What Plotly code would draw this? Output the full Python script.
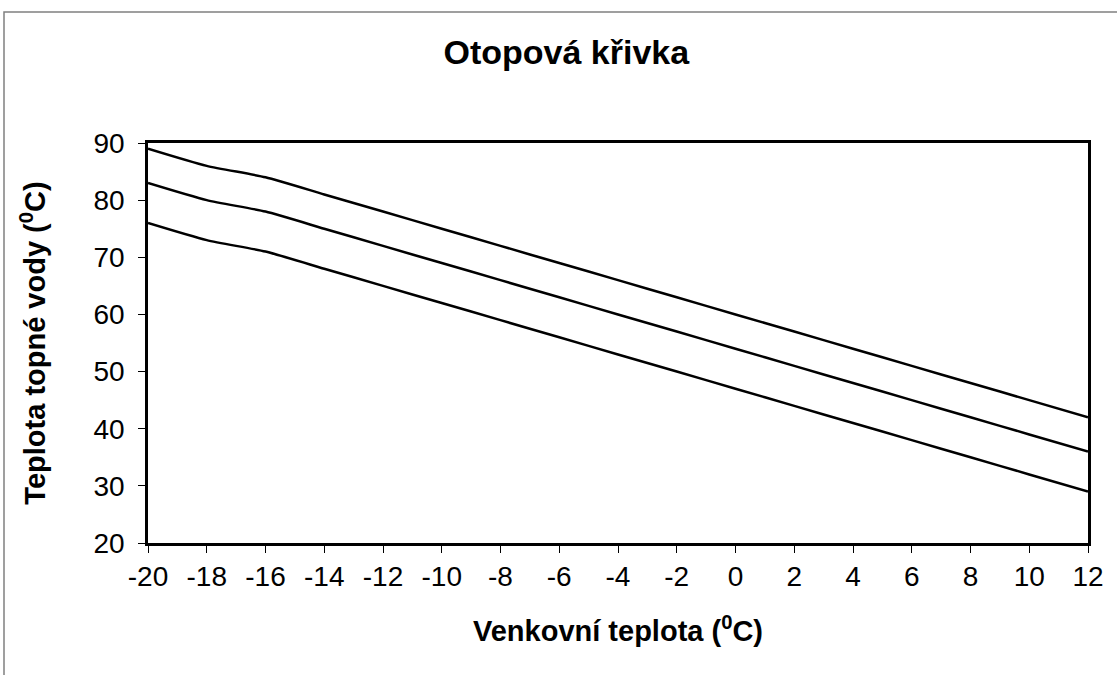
import plotly.graph_objects as go

x_vals = [-20, -18, -16, -14, -12, -10, -8, -6, -4, -2, 0, 2, 4, 6, 8, 10, 12]
upper = [89, 86, 84, 81, 78, 75, 72, 69, 66, 63, 60, 57, 54, 51, 48, 45, 42]
middle = [83, 80, 78, 75, 72, 69, 66, 63, 60, 57, 54, 51, 48, 45, 42, 39, 36]
lower = [76, 73, 71, 68, 65, 62, 59, 56, 53, 50, 47, 44, 41, 38, 35, 32, 29]
y_ticks = [20, 30, 40, 50, 60, 70, 80, 90]

FONT = "Liberation Sans, Arial, sans-serif"

fig = go.Figure()
for ys in (upper, middle, lower):
    fig.add_trace(go.Scatter(x=x_vals, y=ys, mode="lines",
                             line=dict(color="black", width=2.5, shape="spline", smoothing=0.6),
                             showlegend=False, hoverinfo="skip"))

fig.update_layout(
    width=1117, height=675,
    margin=dict(l=148, r=29, t=143, b=132),
    paper_bgcolor="white", plot_bgcolor="white",
    font=dict(family=FONT, color="black"),
    title=dict(text="<b>Otopová křivka</b>", x=0.507, xanchor="center",
               y=1 - 52 / 675, yanchor="middle",
               font=dict(size=34, family=FONT, color="black")),
    xaxis=dict(range=[-20, 12], tickmode="array", tickvals=x_vals,
               ticktext=[str(v) for v in x_vals],
               showgrid=False, zeroline=False, showline=True, linecolor="black",
               linewidth=2.5, mirror=True, ticks="outside", ticklen=7, tickwidth=1,
               tickcolor="black", tickfont=dict(size=28, family=FONT),
               title=dict(text="<b>Venkovní teplota (<sup>0</sup>C)</b>",
                          font=dict(size=29, family=FONT), standoff=30)),
    yaxis=dict(range=[20, 90], tickmode="array", tickvals=y_ticks,
               showgrid=False, zeroline=False, showline=True, linecolor="black",
               linewidth=2.5, mirror=True, ticks="outside", ticklen=7, tickwidth=1,
               tickcolor="black", tickfont=dict(size=28, family=FONT),
               ticklabelstandoff=8,
               title=dict(text="<b>Teplota topné vody (<sup>0</sup>C)</b>",
                          font=dict(size=29, family=FONT), standoff=40)),
    shapes=[dict(type="rect", xref="paper", yref="paper",
                 x0=(4 - 148) / 940, x1=1.2, y0=-0.5, y1=1 + (143 - 12) / 400,
                 line=dict(color="#808080", width=1.5), layer="below")],
)

fig.write_html("out.html", config={"displayModeBar": False},
               post_script="document.body.style.margin='0px';")
